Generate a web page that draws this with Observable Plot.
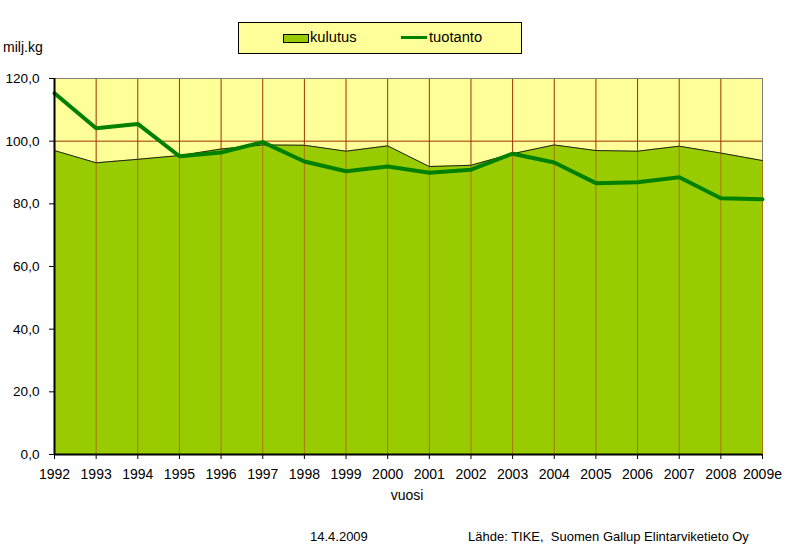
<!DOCTYPE html>
<html>
<head>
<meta charset="utf-8">
<script src="https://cdn.jsdelivr.net/npm/d3@7"></script>
<script src="https://cdn.jsdelivr.net/npm/@observablehq/plot@0.6"></script>
<style>
  html, body { margin: 0; padding: 0; background: #fff; }
  #wrap { position: relative; width: 787px; height: 545px; font-family: "Liberation Sans", Arial, sans-serif; color: #000; }
  #wrap svg { position: absolute; left: 0; top: 0; }
  .t { position: absolute; white-space: pre; line-height: 1; }
  #legend { position: absolute; left: 238px; top: 22px; width: 282px; height: 30px; background: #ffff99; border: 1px solid #000; }
  #legend .sw1 { position: absolute; left: 44px; top: 11px; width: 24px; height: 7px; background: #99cc00; border: 1px solid #000; }
  #legend .sw2 { position: absolute; left: 162px; top: 13px; width: 26px; height: 3px; background: #008000; }
  #legend .l { position: absolute; top: 7px; font-size: 14.7px; line-height: 1; }
</style>
</head>
<body>
<div id="wrap"></div>
<script>
const years = [1992,1993,1994,1995,1996,1997,1998,1999,2000,2001,2002,2003,2004,2005,2006,2007,2008,2009];
const yearLabels = ["1992","1993","1994","1995","1996","1997","1998","1999","2000","2001","2002","2003","2004","2005","2006","2007","2008","2009e"];
const kulutus = [97.0,93.1,94.2,95.4,97.5,98.8,98.7,96.8,98.5,91.9,92.3,96.0,98.8,97.0,96.8,98.4,96.2,93.8];
const tuotanto = [115.3,104.1,105.5,95.2,96.4,99.7,93.5,90.4,91.9,89.9,90.9,96.0,93.2,86.6,86.9,88.5,81.8,81.5];
const yTicks = [0,20,40,60,80,100,120];
const seriesNames = ["kulutus","tuotanto"];

const data = years.map((y, i) => ({year: y, kulutus: kulutus[i], tuotanto: tuotanto[i]}));

const chart = Plot.plot({
  width: 787,
  height: 545,
  marginLeft: 54,
  marginRight: 25,
  marginTop: 78,
  marginBottom: 91,
  style: {fontFamily: "Liberation Sans, Arial, sans-serif", fontSize: "13.6px", color: "#000", background: "transparent", overflow: "visible"},
  x: {domain: [1992, 2009], label: null},
  y: {domain: [0, 120], label: null},
  marks: [
    Plot.frame({fill: "#ffff99", stroke: null}),
    Plot.gridY(yTicks, {stroke: "#993300", strokeOpacity: 1}),
    Plot.gridX(years, {stroke: "#993300", strokeOpacity: 1}),
    Plot.ruleY([120], {stroke: "#808080"}),
    Plot.ruleX([2009], {stroke: "#808080"}),
    Plot.areaY(data, {x: "year", y: "kulutus", fill: "#99cc00"}),
    Plot.ruleX(data, {x: "year", y1: 0, y2: "kulutus", stroke: "#aa7700", strokeWidth: 1}),
    Plot.lineY(data, {x: "year", y: "kulutus", stroke: "#222", strokeWidth: 1}),
    Plot.lineY(data, {x: "year", y: "tuotanto", stroke: "#008000", strokeWidth: 4, strokeLinejoin: "miter"}),
    Plot.ruleX([1992], {stroke: "#000", strokeWidth: 2}),
    Plot.ruleY([0], {stroke: "#000", strokeWidth: 2}),
    Plot.axisY(yTicks, {tickSize: 5, tickPadding: 10, tickFormat: d => d.toFixed(1).replace(".", ","), stroke: "#000"}),
    Plot.axisX(years, {tickSize: 5, tickPadding: 10, tickFormat: d => yearLabels[years.indexOf(d)], stroke: "#000", fontSize: "14px"})
  ]
});

const wrap = document.getElementById("wrap");
wrap.appendChild(chart);

function addText(txt, left, top, size, anchorCenter) {
  const el = document.createElement("div");
  el.className = "t";
  el.textContent = txt;
  el.style.left = left + "px";
  el.style.top = top + "px";
  el.style.fontSize = size + "px";
  if (anchorCenter) el.style.transform = "translateX(-50%)";
  wrap.appendChild(el);
}
addText("milj.kg", 3, 40, 14);
addText("vuosi", 407, 488, 14, true);
addText("14.4.2009", 310, 530, 13);
addText("Lähde: TIKE,  Suomen Gallup Elintarviketieto Oy", 468, 530, 13);

const legend = document.createElement("div");
legend.id = "legend";
legend.innerHTML = `<div class="sw1"></div><div class="l" style="left:71px">${seriesNames[0]}</div><div class="sw2"></div><div class="l" style="left:190px">${seriesNames[1]}</div>`;
wrap.appendChild(legend);
</script>
</body>
</html>
